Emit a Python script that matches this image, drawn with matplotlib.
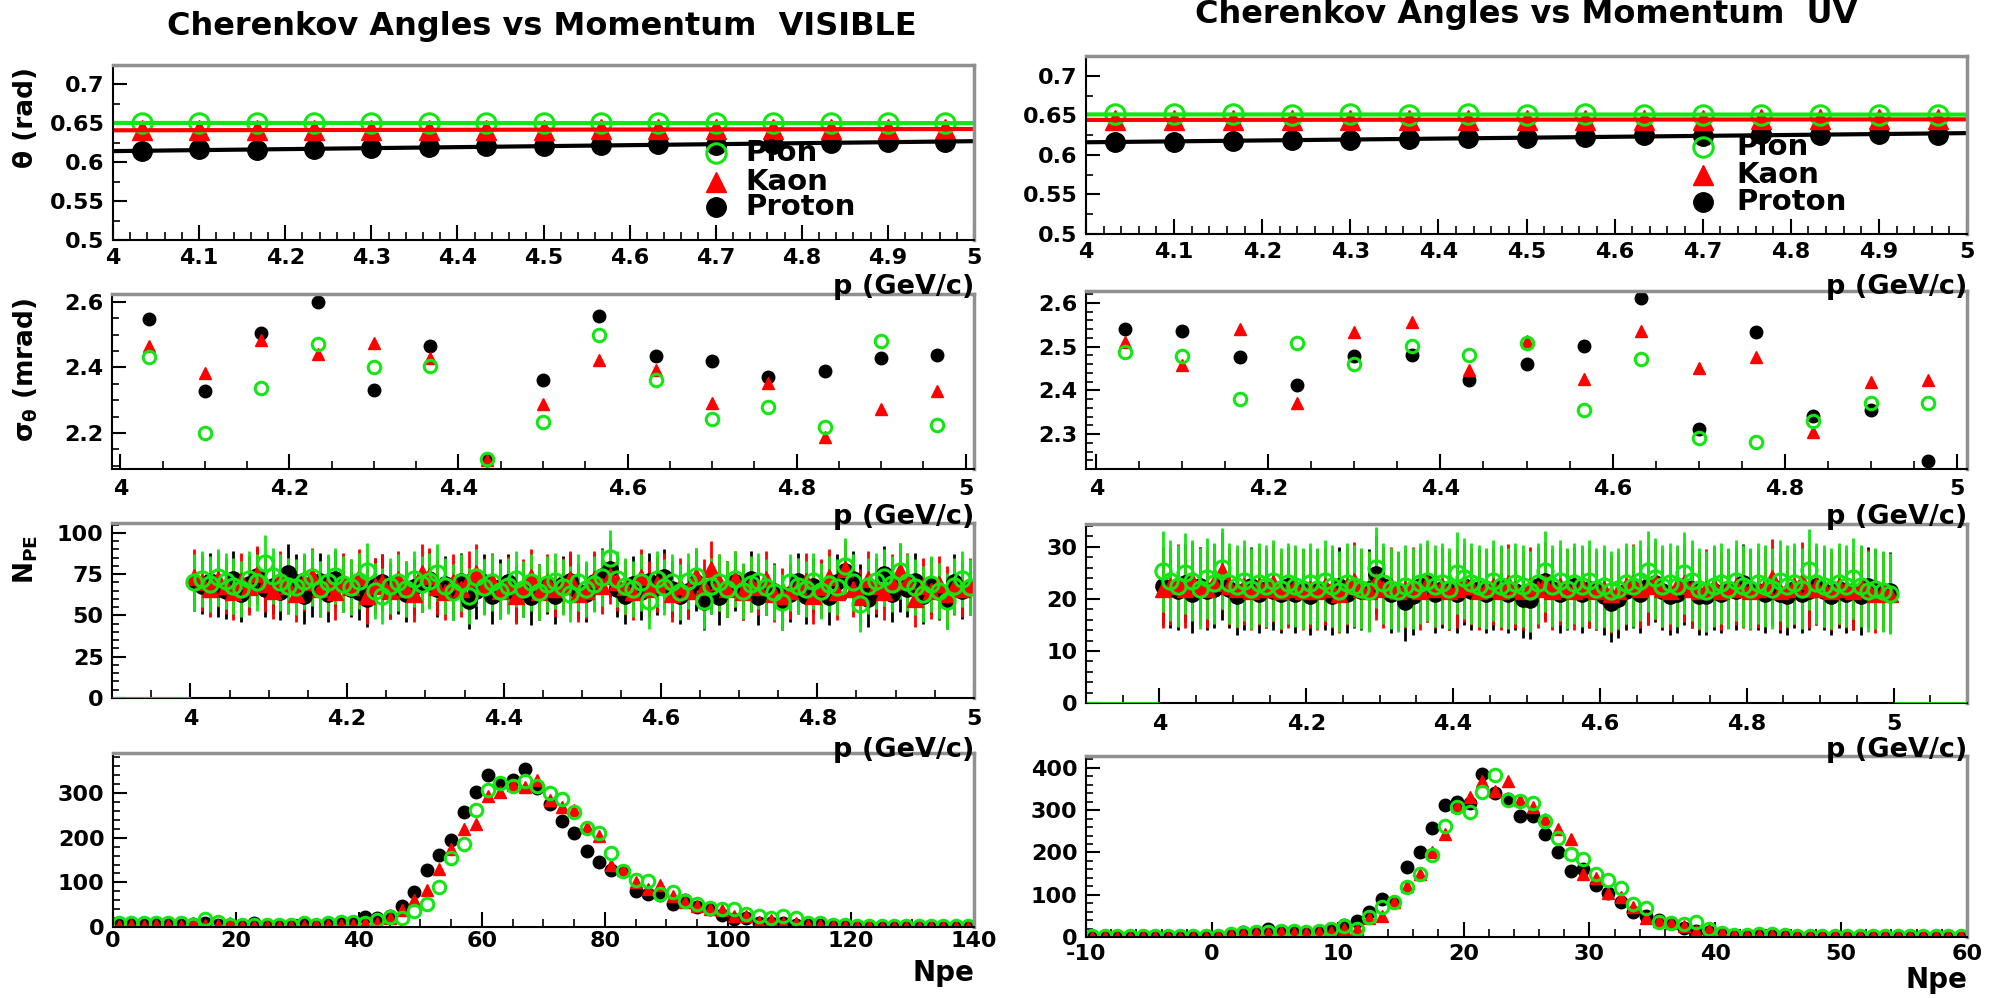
import numpy as np
import matplotlib
matplotlib.use("Agg")
import matplotlib.pyplot as plt
from matplotlib.ticker import MultipleLocator, FuncFormatter
from matplotlib.transforms import Bbox

plt.rc('font', family='DejaVu Sans', weight='bold', size=16)
plt.rc('mathtext', fontset='custom', rm='DejaVu Sans:bold',
       it='DejaVu Sans:bold', bf='DejaVu Sans:bold')

W, H = 2004, 998
GREEN, RED = '#14e614', '#ff0000'

# ---------------- data ----------------
# 15 momentum bins between 4 and 5 GeV/c (theta and sigma panels)
p_edges = np.linspace(4.0, 5.0, 16)
p_theta = 0.5 * (p_edges[1:] + p_edges[:-1])

theta_vis_pion = [0.6505, 0.6506, 0.6504, 0.6503, 0.6502, 0.6505, 0.6506, 0.6503,
                  0.6504, 0.6506, 0.6503, 0.6505, 0.6502, 0.6503, 0.6501]
theta_vis_kaon = [0.6410, 0.6412, 0.6414, 0.6413, 0.6416, 0.6418, 0.6417, 0.6419,
                  0.6421, 0.6422, 0.6421, 0.6424, 0.6423, 0.6425, 0.6426]
theta_vis_proton = [0.6139, 0.6165, 0.6152, 0.6174, 0.6183, 0.6191, 0.6209, 0.6204,
                    0.6222, 0.6230, 0.6217, 0.6240, 0.6252, 0.6265, 0.6257]

theta_uv_pion = [0.6512, 0.6511, 0.6512, 0.6510, 0.6511, 0.6509, 0.6511, 0.6510,
                 0.6511, 0.6510, 0.6509, 0.6510, 0.6509, 0.6510, 0.6509]
theta_uv_kaon = [0.6442, 0.6443, 0.6443, 0.6444, 0.6444, 0.6445, 0.6445, 0.6446,
                 0.6446, 0.6447, 0.6447, 0.6448, 0.6448, 0.6449, 0.6449]
theta_uv_proton = [0.6162, 0.6166, 0.6179, 0.6183, 0.6191, 0.6200, 0.6217, 0.6217,
                   0.6226, 0.6247, 0.6238, 0.6268, 0.6251, 0.6260, 0.6255]

sig_vis_pion = [2.431, 2.200, 2.338, 2.472, 2.400, 2.403, 2.121, 2.234,
                2.498, 2.362, 2.242, 2.280, 2.218, 2.482, 2.224]
sig_vis_kaon = [2.466, 2.384, 2.484, 2.441, 2.476, 2.428, 2.116, 2.287,
                2.423, 2.392, 2.292, 2.351, 2.188, 2.272, 2.329]
sig_vis_proton = [2.549, 2.328, 2.505, 2.600, 2.331, 2.464, 2.116, 2.362,
                  2.556, 2.436, 2.420, 2.370, 2.389, 2.428, 2.438]

sig_uv_pion = [2.487, 2.478, 2.381, 2.509, 2.461, 2.501, 2.480, 2.507,
               2.356, 2.471, 2.292, 2.282, 2.330, 2.370, 2.372]
sig_uv_kaon = [2.511, 2.458, 2.541, 2.372, 2.534, 2.557, 2.446, 2.513,
               2.425, 2.536, 2.452, 2.475, 2.305, 2.420, 2.423]
sig_uv_proton = [2.541, 2.535, 2.475, 2.412, 2.478, 2.480, 2.423, 2.461,
                 2.502, 2.610, 2.311, 2.534, 2.342, 2.356, 2.239]

# 100 momentum bins between 4 and 5 GeV/c (N_PE panels)
p_npe = 4.005 + 0.01 * np.arange(100)

npe_vis_proton = [70, 68, 71, 66, 65, 72, 63, 69, 74, 66,
                  68, 64, 76, 70, 62, 66, 71, 63, 72, 69,
                  66, 64, 60, 68, 70, 65, 68, 63, 67, 69,
                  72, 66, 69, 64, 71, 59, 65, 70, 62, 67,
                  70, 63, 66, 61, 64, 68, 62, 69, 71, 65,
                  63, 70, 74, 78, 66, 62, 69, 64, 71, 67,
                  73, 66, 62, 65, 70, 58, 68, 61, 66, 70,
                  64, 72, 61, 67, 65, 58, 63, 71, 62, 68,
                  66, 61, 70, 77, 72, 64, 60, 66, 75, 63,
                  69, 66, 71, 62, 68, 64, 59, 70, 65, 67]
npe_vis_kaon = [73, 70, 66, 72, 68, 64, 71, 67, 75, 69,
                65, 72, 68, 63, 70, 74, 66, 69, 64, 71,
                67, 73, 62, 68, 70, 65, 72, 66, 63, 76,
                74, 67, 64, 70, 66, 72, 76, 68, 71, 65,
                69, 62, 67, 73, 64, 70, 66, 68, 72, 63,
                65, 72, 68, 74, 70, 67, 64, 73, 66, 69,
                71, 63, 68, 65, 74, 67, 78, 70, 66, 72,
                64, 69, 67, 72, 63, 62, 65, 68, 71, 62,
                67, 73, 64, 78, 66, 61, 72, 68, 64, 70,
                77, 71, 60, 68, 65, 69, 63, 67, 66, 68]
npe_vis_pion = [70, 72, 69, 73, 71, 68, 66, 72, 70, 82,
                74, 70, 68, 67, 71, 73, 66, 70, 74, 69,
                67, 71, 77, 65, 62, 68, 70, 66, 72, 69,
                71, 76, 68, 64, 70, 62, 73, 67, 70, 65,
                68, 72, 66, 70, 64, 69, 71, 67, 63, 70,
                66, 69, 73, 85, 72, 68, 66, 70, 59, 72,
                67, 70, 64, 71, 74, 59, 68, 70, 66, 72,
                65, 69, 71, 67, 64, 58, 70, 68, 66, 71,
                65, 69, 67, 80, 70, 57, 68, 71, 73, 69,
                77, 70, 67, 63, 69, 65, 59, 68, 72, 67]
npe_vis_err = {'proton': 17, 'kaon': 17, 'pion': 17}

npe_uv_proton = [22.5, 22.0, 21.5, 23.0, 21.0, 22.5, 21.5, 22.0, 23.5, 22.0,
                 20.5, 21.5, 22.5, 21.0, 22.0, 21.5, 21.0, 22.5, 21.0, 22.0,
                 20.5, 22.0, 21.5, 20.5, 22.5, 21.0, 22.0, 21.5, 22.0, 24.7,
                 22.5, 21.0, 21.5, 19.5, 20.5, 22.5, 23.0, 21.0, 22.0, 21.5,
                 21.0, 22.5, 21.5, 22.0, 21.0, 21.5, 22.5, 21.0, 21.5, 20.0,
                 19.8, 22.5, 23.5, 22.0, 21.0, 21.5, 22.5, 21.0, 22.0, 21.5,
                 20.5, 19.2, 20.0, 21.5, 22.0, 21.0, 22.5, 23.0, 21.5, 20.5,
                 21.0, 22.5, 22.0, 20.5, 20.5, 21.5, 21.0, 22.0, 21.5, 23.0,
                 22.0, 21.5, 21.0, 22.5, 21.0, 20.5, 22.0, 21.0, 21.5, 22.5,
                 21.5, 20.5, 22.0, 21.0, 21.5, 20.5, 22.5, 22.0, 21.5, 21.5]
npe_uv_kaon = [22.0, 22.5, 23.0, 22.0, 23.5, 22.5, 22.0, 23.0, 25.3, 22.5,
               22.0, 22.5, 21.5, 22.5, 22.0, 23.0, 21.5, 22.0, 22.5, 21.5,
               22.0, 21.5, 22.5, 22.0, 21.0, 22.5, 23.5, 22.0, 21.5, 23.5,
               22.0, 22.5, 21.5, 22.0, 22.5, 21.5, 23.0, 22.0, 22.5, 21.5,
               22.0, 23.0, 22.5, 21.5, 22.0, 22.5, 21.5, 23.0, 22.0, 21.5,
               22.5, 22.0, 23.0, 21.5, 22.5, 22.0, 21.5, 22.5, 22.0, 21.5,
               22.0, 21.0, 21.5, 22.5, 23.0, 22.0, 22.5, 23.5, 22.0, 21.5,
               22.5, 23.0, 22.0, 21.5, 22.0, 22.5, 21.5, 22.0, 22.5, 22.0,
               21.5, 22.0, 22.5, 24.0, 21.5, 22.0, 22.5, 23.5, 22.0, 22.5,
               22.0, 21.5, 22.5, 22.0, 21.5, 22.5, 22.0, 21.0, 21.5, 21.0]
npe_uv_pion = [25.3, 23.5, 22.5, 24.9, 23.5, 22.0, 24.0, 23.0, 25.9, 23.0,
               22.5, 23.5, 22.0, 23.0, 22.5, 23.5, 22.0, 23.0, 22.5, 22.0,
               23.0, 22.0, 23.5, 22.5, 21.5, 23.0, 22.5, 22.0, 21.5, 26.0,
               23.0, 22.0, 21.5, 22.5, 22.0, 23.0, 23.5, 22.5, 23.0, 22.0,
               25.0, 24.0, 23.0, 22.5, 22.0, 23.5, 22.5, 22.0, 23.0, 22.5,
               21.5, 23.0, 25.3, 22.5, 23.5, 22.0, 23.0, 22.5, 23.5, 22.0,
               22.5, 21.5, 22.0, 23.0, 22.5, 23.5, 25.3, 24.0, 22.5, 23.0,
               22.5, 25.0, 23.5, 22.0, 21.5, 22.5, 23.0, 22.0, 23.5, 22.5,
               22.0, 23.0, 22.5, 22.0, 23.5, 22.5, 23.0, 22.0, 25.6, 23.0,
               22.5, 22.0, 23.0, 22.5, 24.0, 22.5, 21.5, 22.0, 21.5, 21.0]
npe_uv_err = {'proton': 7.5, 'kaon': 7.5, 'pion': 7.8}

# Npe distributions
npe_vis_x = np.arange(1, 140, 2)
hist_vis_proton = [5, 8, 5, 6, 7, 5, 6, 8, 5, 4,
                   5, 8, 5, 5, 5, 7, 5, 8, 10, 12,
                   22, 20, 25, 47, 78, 127, 161, 196, 258, 303,
                   340, 322, 330, 355, 312, 275, 237, 210, 170, 145,
                   128, 125, 80, 73, 72, 52, 60, 45, 40, 28,
                   18, 20, 8, 8, 10, 5, 5, 5, 3, 3,
                   2, 2, 1, 1, 1, 1, 1, 1, 1, 1]
hist_vis_kaon = [3, 5, 3, 5, 5, 3, 8, 5, 5, 8,
                 3, 3, 3, 3, 3, 3, 5, 5, 5, 5,
                 8, 10, 20, 38, 60, 83, 130, 175, 220, 230,
                 293, 303, 318, 313, 330, 285, 268, 262, 225, 203,
                 138, 128, 100, 85, 95, 70, 55, 48, 40, 38,
                 25, 25, 12, 15, 8, 10, 5, 5, 3, 3,
                 2, 2, 1, 1, 1, 1, 1, 1, 1, 1]
hist_vis_pion = [8, 10, 8, 10, 10, 8, 5, 18, 12, 5,
                 5, 5, 5, 5, 5, 8, 5, 8, 12, 12,
                 10, 15, 22, 20, 35, 52, 90, 155, 185, 262,
                 307, 323, 315, 328, 315, 300, 287, 257, 222, 210,
                 165, 125, 105, 103, 75, 78, 58, 52, 42, 40,
                 40, 30, 25, 20, 25, 20, 10, 10, 5, 5,
                 3, 3, 2, 2, 2, 2, 2, 2, 2, 2]

npe_uv_x = np.arange(-9.5, 60, 1.0)
hist_uv_proton = [1, 1, 1, 1, 1, 1, 1, 1, 1, 1,
                  2, 8, 12, 12, 20, 10, 12, 8, 12, 18,
                  28, 38, 60, 90, 82, 165, 200, 258, 312, 320,
                  318, 385, 340, 327, 285, 285, 243, 200, 155, 160,
                  122, 105, 82, 60, 50, 40, 32, 22, 15, 12,
                  8, 5, 3, 5, 3, 2, 1, 1, 1, 1,
                  1, 1, 1, 1, 1, 1, 1, 1, 1, 1]
hist_uv_kaon = [1, 1, 1, 1, 1, 1, 1, 1, 1, 1,
                2, 5, 8, 10, 10, 12, 10, 10, 12, 12,
                18, 20, 45, 50, 83, 120, 150, 200, 243, 310,
                330, 368, 345, 368, 325, 308, 278, 255, 232, 150,
                140, 105, 95, 72, 45, 38, 32, 25, 15, 18,
                10, 5, 5, 5, 5, 2, 2, 2, 2, 2,
                2, 2, 2, 2, 2, 2, 2, 2, 2, 2]
hist_uv_pion = [2, 2, 2, 2, 2, 2, 2, 2, 2, 2,
                3, 8, 10, 12, 12, 15, 15, 12, 15, 20,
                25, 20, 48, 70, 83, 118, 148, 195, 262, 308,
                296, 343, 383, 325, 322, 318, 275, 235, 197, 185,
                150, 135, 115, 78, 68, 35, 33, 30, 35, 20,
                10, 5, 5, 8, 8, 5, 3, 2, 2, 2,
                2, 2, 2, 2, 2, 2, 2, 2, 2, 2]

# ---------------- styles ----------------
STYLE = {
    'pion': dict(marker='o', color=GREEN, mfc='none', mec=GREEN, mew=2.2),
    'kaon': dict(marker='^', color=RED, mfc=RED, mec=RED),
    'proton': dict(marker='o', color='black', mfc='black', mec='black'),
}
ORDER = ['proton', 'kaon', 'pion']
LEGEND = [('Pion', 'pion'), ('Kaon', 'kaon'), ('Proton', 'proton')]

fmt = FuncFormatter(lambda v, pos: '%g' % round(v, 6))

fig = plt.figure(figsize=(W / 100, H / 100), dpi=100)


def add_ax(b):
    x0, y0, x1, y1 = b
    return fig.add_axes([x0 / W, 1 - y1 / H, (x1 - x0) / W, (y1 - y0) / H])


def style_axes(ax, xlim, ylim, xt, yt, xpad):
    ax.set_xlim(*xlim)
    ax.set_ylim(*ylim)
    ax.xaxis.set_major_locator(MultipleLocator(xt[0]))
    ax.xaxis.set_minor_locator(MultipleLocator(xt[1]))
    ax.yaxis.set_major_locator(MultipleLocator(yt[0]))
    ax.yaxis.set_minor_locator(MultipleLocator(yt[1]))
    ax.xaxis.set_major_formatter(fmt)
    ax.yaxis.set_major_formatter(fmt)
    ax.tick_params(axis='x', which='major', direction='in', length=11, width=1.5,
                   pad=xpad, labelsize=16)
    ax.tick_params(axis='x', which='minor', direction='in', length=6, width=1.2)
    ax.tick_params(axis='y', which='major', direction='in', length=10, width=1.5,
                   pad=6, labelsize=16)
    ax.tick_params(axis='y', which='minor', direction='in', length=5, width=1.2)
    for s in ('top', 'right'):
        ax.spines[s].set_color('#909090')
        ax.spines[s].set_linewidth(2.5)
    for s in ('left', 'bottom'):
        ax.spines[s].set_linewidth(1.5)


def draw_theta(ax, series, mx, tx, rows):
    for name in ORDER:
        ax.plot(p_theta, series[name], ls='none', ms=14, **STYLE[name])
    xx = p_edges[[0, -1]]
    for name in ORDER:
        k, b = np.polyfit(p_theta, series[name], 1)
        ax.plot(xx, k * xx + b, color=STYLE[name]['color'], lw=3)
    for (lab, name), yy in zip(LEGEND, rows):
        ax.plot([mx], [yy], transform=ax.transAxes, ls='none', ms=14,
                clip_on=False, **STYLE[name])
        ax.text(tx, yy, lab, transform=ax.transAxes, ha='left', va='center',
                fontsize=21)


def draw_sigma(ax, series):
    for name in ORDER:
        ax.plot(p_theta, series[name], ls='none', ms=9, **STYLE[name])


def draw_npe(ax, series, err):
    lo = p_npe[0] - 0.005
    hi = p_npe[-1] + 0.005
    x0, x1 = ax.get_xlim()
    ax.hlines(0, x0, lo, color=GREEN, lw=2, zorder=3)
    if x1 > hi:
        ax.hlines(0, hi, x1, color=GREEN, lw=2, zorder=3)
    for name in ORDER:
        ax.errorbar(p_npe, series[name], yerr=err[name], ls='none', ms=11,
                    elinewidth=2, capsize=0, **STYLE[name])


def draw_hist(ax, x, series):
    for name in ORDER:
        ax.plot(x, series[name], ls='none', ms=9, **STYLE[name])


left_boxes = [(113, 65, 974, 240), (112, 294, 974, 469),
              (112, 523, 974, 698), (113, 753, 974, 927)]
right_boxes = [(1086, 56, 1967, 234), (1086, 291, 1967, 469),
               (1086, 524, 1967, 703), (1086, 756, 1967, 937)]

# ---- left column (VISIBLE)
ax = add_ax(left_boxes[0])
style_axes(ax, (4, 5), (0.5, 0.725), (0.1, 0.02), (0.05, 0.025), 6)
draw_theta(ax, {'pion': theta_vis_pion, 'kaon': theta_vis_kaon, 'proton': theta_vis_proton},
           0.700, 0.735, [0.497, 0.331, 0.189])

ax = add_ax(left_boxes[1])
style_axes(ax, (3.99, 5.01), (2.09, 2.624), (0.2, 0.05), (0.2, 0.05), 7)
draw_sigma(ax, {'pion': sig_vis_pion, 'kaon': sig_vis_kaon, 'proton': sig_vis_proton})

ax = add_ax(left_boxes[2])
style_axes(ax, (3.9, 5.0), (0, 106), (0.2, 0.05), (25, 5), 8)
draw_npe(ax, {'pion': npe_vis_pion, 'kaon': npe_vis_kaon, 'proton': npe_vis_proton},
         npe_vis_err)

ax = add_ax(left_boxes[3])
style_axes(ax, (0, 140), (0, 390), (20, 5), (100, 20), 3)
draw_hist(ax, npe_vis_x, {'pion': hist_vis_pion, 'kaon': hist_vis_kaon,
                          'proton': hist_vis_proton})

# ---- right column (UV)
ax = add_ax(right_boxes[0])
style_axes(ax, (4, 5), (0.5, 0.725), (0.1, 0.02), (0.05, 0.025), 6)
draw_theta(ax, {'pion': theta_uv_pion, 'kaon': theta_uv_kaon, 'proton': theta_uv_proton},
           0.700, 0.738, [0.489, 0.331, 0.180])

ax = add_ax(right_boxes[1])
style_axes(ax, (3.988, 5.012), (2.22, 2.627), (0.2, 0.05), (0.1, 0.02), 7)
draw_sigma(ax, {'pion': sig_uv_pion, 'kaon': sig_uv_kaon, 'proton': sig_uv_proton})

ax = add_ax(right_boxes[2])
style_axes(ax, (3.9, 5.1), (0, 34.4), (0.2, 0.05), (10, 2), 8)
draw_npe(ax, {'pion': npe_uv_pion, 'kaon': npe_uv_kaon, 'proton': npe_uv_proton},
         npe_uv_err)

ax = add_ax(right_boxes[3])
style_axes(ax, (-10, 60), (0, 428), (10, 2), (100, 20), 5)
draw_hist(ax, npe_uv_x, {'pion': hist_uv_pion, 'kaon': hist_uv_kaon,
                         'proton': hist_uv_proton})

# ---- texts
fig.text(542 / W, 1 - 27 / H, 'Cherenkov Angles vs Momentum  VISIBLE',
         ha='center', va='center', fontsize=23)
fig.text(1526 / W, 1 - 15 / H, 'Cherenkov Angles vs Momentum  UV',
         ha='center', va='center', fontsize=23)

for xr, rows in ((974, [287, 517, 750]), (1967, [287, 517, 750])):
    for yc in rows:
        fig.text(xr / W, 1 - yc / H, 'p (GeV/c)', ha='right', va='center', fontsize=19.5)
fig.text(974 / W, 1 - 973 / H, 'Npe', ha='right', va='center', fontsize=20)
fig.text(1967 / W, 1 - 980 / H, 'Npe', ha='right', va='center', fontsize=20)

ytitles = [('θ (rad)', 67), (r'$\sigma_\theta$ (mrad)', 298), (r'N$_{\rm PE}$', 535)]
for lab, ytop in ytitles:
    fig.text(26 / W, 1 - ytop / H, lab, rotation=90, ha='center', va='top', fontsize=19)

# right column titles are cut off by the edge of the right picture
clip = Bbox.from_extents(1000, 0, W, H)
for lab, ytop in ytitles[1:]:
    t = fig.text(990 / W, 1 - (ytop - 3) / H, lab, rotation=90, ha='center',
                 va='top', fontsize=19)
    t.set_clip_box(clip)
    t.set_clip_on(True)

fig.savefig('out.png', dpi=100)
